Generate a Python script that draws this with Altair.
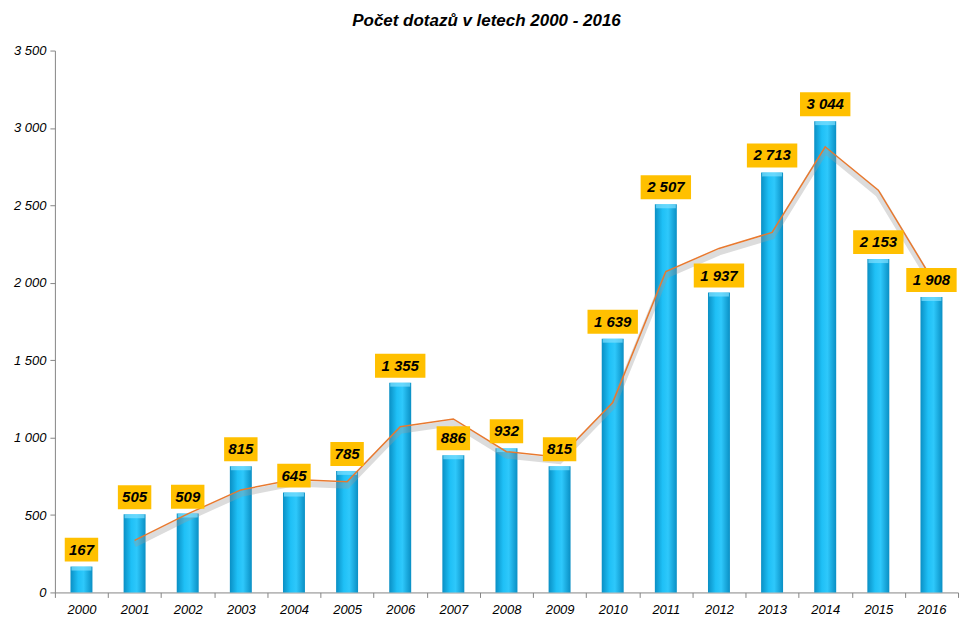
import altair as alt
import pandas as pd

years = ["2000", "2001", "2002", "2003", "2004", "2005", "2006", "2007", "2008",
         "2009", "2010", "2011", "2012", "2013", "2014", "2015", "2016"]
values = [167, 505, 509, 815, 645, 785, 1355, 886, 932, 815, 1639, 2507, 1937,
          2713, 3044, 2153, 1908]

df = pd.DataFrame({"year": years, "value": values})

FONT = "Liberation Sans Narrow, Liberation Sans, sans-serif"
fmt_expr = "replace(format(datum.value, ','), ',', ' ')"

x = alt.X(
    "year:O",
    title=None,
    scale=alt.Scale(paddingInner=0, paddingOuter=0),
    axis=alt.Axis(
        labelAngle=0, labelFont=FONT, labelFontStyle="italic", labelFontSize=13,
        labelColor="black", domainColor="#868686", tickColor="#868686",
        tickBand="extent", tickSize=5, labelPadding=6,
    ),
)
yscale = alt.Scale(domain=[0, 3500], nice=False)
yaxis = alt.Axis(
    values=list(range(0, 3501, 500)), labelExpr=fmt_expr, grid=False,
    labelFont=FONT, labelFontStyle="italic", labelFontSize=13,
    labelColor="black", domainColor="#868686", tickColor="#868686",
    tickSize=5, labelPadding=4,
)
y = alt.Y("value:Q", title=None, scale=yscale, axis=yaxis)
y_ma = alt.Y("ma:Q", title=None, scale=yscale, axis=yaxis)

base = alt.Chart(df)

bar_grad = alt.Gradient(
    gradient="linear", x1=0, x2=1, y1=0, y2=0,
    stops=[
        alt.GradientStop(offset=0, color="#0a8fc4"),
        alt.GradientStop(offset=0.35, color="#1fc0f6"),
        alt.GradientStop(offset=0.6, color="#2ec8fb"),
        alt.GradientStop(offset=1, color="#0a8fc4"),
    ],
)

bars = base.mark_bar(size=22, color=bar_grad).encode(x=x, y=y)

cap = base.mark_tick(size=20, thickness=4, color="#7fe0ff", yOffset=2).encode(x=x, y=y)

ma = base.transform_window(
    ma="mean(value)", n="count()", frame=[-1, 0], sort=[alt.SortField("year")]
).transform_filter("datum.n == 2")

shadow = ma.mark_line(color="#9a9a9a", strokeWidth=6, opacity=0.35, yOffset=4).encode(
    x=x, y=y_ma
)
line = ma.mark_line(color="#e8792f", strokeWidth=1.5).encode(x=x, y=y_ma)

lab = base.transform_calculate(
    label=fmt_expr, boxw="length(" + fmt_expr + ") * 8.5 + 8"
)

boxes = lab.mark_bar(color="#ffc000", yOffset=-29, y2Offset=-5).encode(
    x=x, y=y, y2="value:Q", size=alt.Size("boxw:Q", scale=None, legend=None)
)
texts = lab.mark_text(
    font=FONT, fontSize=15, fontWeight="bold", fontStyle="italic",
    color="black", dy=-17, baseline="middle",
).encode(x=x, y=y, text="label:N")

chart = alt.layer(bars, shadow, cap, line, boxes, texts).properties(
    width=905, height=543,
    title=alt.TitleParams(
        "Počet dotazů v letech 2000 - 2016", font=FONT, fontSize=17,
        fontWeight="bold", fontStyle="italic", color="black", offset=15, dx=-20,
    ),
    autosize=alt.AutoSizeParams(type="none"),
    padding={"left": 47, "top": 42, "right": 10, "bottom": 32},
).configure_view(stroke=None)

chart.save("out.html", embed_options={"renderer": "svg", "actions": False})
